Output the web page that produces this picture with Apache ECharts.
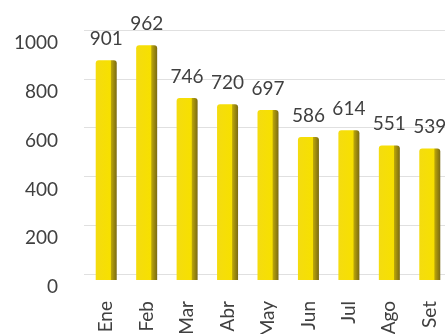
<!DOCTYPE html>
<html>
<head>
<meta charset="utf-8">
<script src="https://cdn.jsdelivr.net/npm/echarts@6/dist/echarts.min.js"></script>
<style>
  html, body { margin: 0; padding: 0; background: #ffffff; }
  #chart { width: 445px; height: 334px; }
</style>
</head>
<body>
<div id="chart"></div>
<script>
// Monthly totals
var months = ['Ene', 'Feb', 'Mar', 'Abr', 'May', 'Jun', 'Jul', 'Ago', 'Set'];
var values = [901, 962, 746, 720, 697, 586, 614, 551, 539];
var yTicks = [0, 200, 400, 600, 800, 1000];

var FONT = 'Lato';
var TEXT = '#404040';

// Bar face: bright yellow front with a darker olive side strip
var barFill = new echarts.graphic.LinearGradient(0, 0, 1, 0, [
  { offset: 0, color: '#f4dc10' },
  { offset: 0.70, color: '#f7e000' },
  { offset: 0.74, color: '#b9a40a' },
  { offset: 1, color: '#7a6a12' }
]);

var chart = echarts.init(document.getElementById('chart'), null, { renderer: 'canvas' });

chart.setOption({
  backgroundColor: '#ffffff',
  animation: false,
  grid: [
    // plot area for the bars
    { left: 86, width: 364, top: 36, bottom: 54, containLabel: false, outerBoundsMode: 'none' },
    // back wall carrying the gridlines
    { left: 84, width: 380, top: 30, bottom: 60, containLabel: false, outerBoundsMode: 'none' }
  ],
  xAxis: [
    {
      type: 'category',
      gridIndex: 0,
      data: months,
      axisLine: { show: false },
      axisTick: { show: false },
      axisLabel: {
        rotate: 90,
        margin: 21,
        color: TEXT,
        fontFamily: FONT,
        fontSize: 19
      }
    },
    {
      type: 'category',
      gridIndex: 1,
      data: months,
      show: false
    }
  ],
  yAxis: [
    {
      type: 'value',
      gridIndex: 0,
      min: yTicks[0],
      max: yTicks[yTicks.length - 1],
      interval: 200,
      axisLine: { show: false },
      axisTick: { show: false },
      splitLine: { show: false },
      axisLabel: {
        margin: 28,
        color: TEXT,
        fontFamily: FONT,
        fontSize: 19,
        verticalAlign: 'top',
        lineHeight: 14,
        formatter: function (v) { return String(v); }
      }
    },
    {
      type: 'value',
      gridIndex: 1,
      min: yTicks[0],
      max: yTicks[yTicks.length - 1],
      interval: 200,
      axisLine: { show: false },
      axisTick: { show: false },
      axisLabel: { show: false },
      splitLine: { show: true, lineStyle: { color: '#e0e0e0', width: 1 } }
    }
  ],
  series: [
    {
      type: 'bar',
      xAxisIndex: 0,
      yAxisIndex: 0,
      data: values,
      barWidth: 21,
      itemStyle: {
        color: barFill,
        borderRadius: [3, 3, 0, 0]
      },
      label: {
        show: true,
        position: 'top',
        distance: 12,
        color: TEXT,
        fontFamily: FONT,
        fontSize: 19
      }
    }
  ]
});
</script>
</body>
</html>
